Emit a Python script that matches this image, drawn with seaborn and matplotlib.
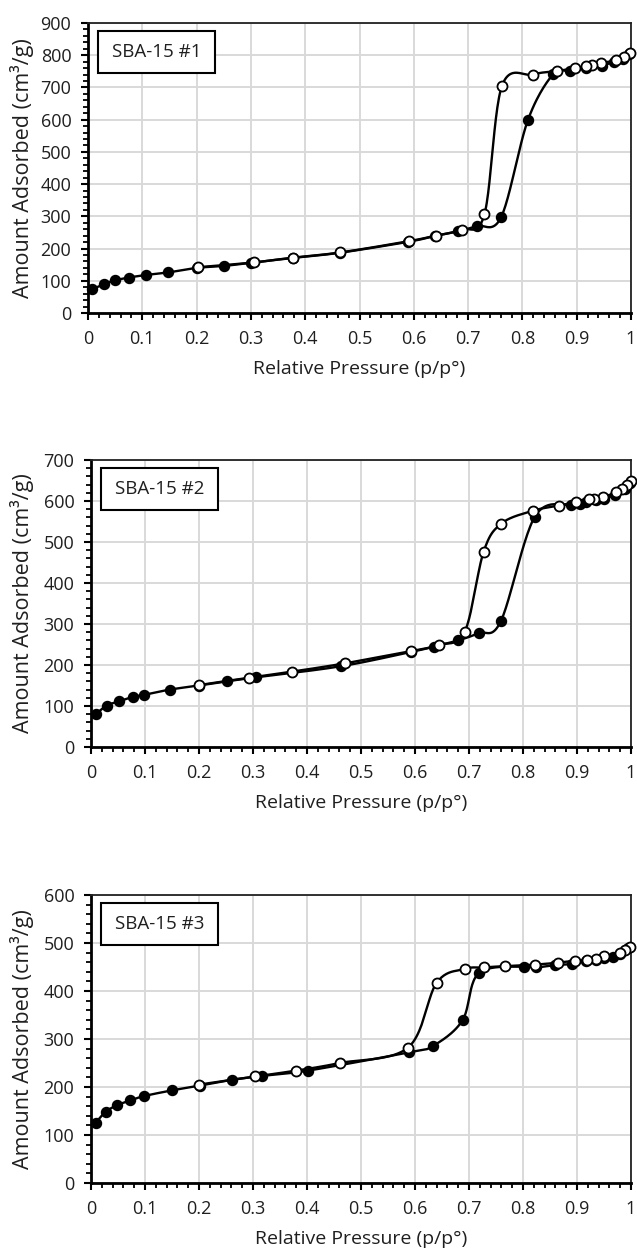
import numpy as np
import matplotlib
matplotlib.use("Agg")
import matplotlib.pyplot as plt
import seaborn as sns
from matplotlib.ticker import MultipleLocator, FuncFormatter
from matplotlib.patches import Rectangle

# ---------------- data ----------------
titles = ["SBA-15 #1", "SBA-15 #2", "SBA-15 #3"]
ymax = [900, 700, 600]

ads1_x = [0.008, 0.030, 0.049, 0.075, 0.107, 0.148, 0.200, 0.250, 0.300, 0.378, 0.464,
          0.590, 0.639, 0.682, 0.716, 0.761, 0.810, 0.857, 0.887, 0.918, 0.946, 0.969, 0.986, 0.997]
ads1_y = [74, 90, 101, 110, 118, 126, 140, 146, 156, 171, 187,
          221, 239, 254, 270, 298, 598, 742, 750, 760, 768, 779, 789, 805]
des1_x = [0.999, 0.988, 0.973, 0.944, 0.929, 0.918, 0.896, 0.863, 0.819, 0.762,
          0.730, 0.688, 0.640, 0.591, 0.465, 0.378, 0.306, 0.202]
des1_y = [807, 795, 784, 776, 770, 765, 759, 751, 740, 703,
          306, 259, 240, 223, 188, 172, 157, 142]

ads2_x = [0.009, 0.029, 0.051, 0.077, 0.098, 0.146, 0.200, 0.251, 0.306, 0.463,
          0.593, 0.636, 0.680, 0.718, 0.759, 0.822, 0.889, 0.906, 0.916, 0.936, 0.950, 0.970, 0.988, 0.998]
ads2_y = [80, 101, 111, 122, 127, 140, 150, 160, 170, 197,
          232, 245, 260, 278, 307, 562, 591, 593, 598, 603, 606, 615, 629, 645]
des2_x = [1.000, 0.993, 0.984, 0.973, 0.948, 0.931, 0.923, 0.899, 0.866, 0.818, 0.760,
          0.727, 0.692, 0.644, 0.593, 0.470, 0.373, 0.292, 0.200]
des2_y = [649, 640, 630, 621, 610, 605, 604, 597, 589, 576, 545,
          476, 281, 249, 234, 204, 184, 169, 151]

ads3_x = [0.009, 0.027, 0.048, 0.073, 0.098, 0.150, 0.202, 0.261, 0.316, 0.401,
          0.588, 0.634, 0.688, 0.718, 0.802, 0.824, 0.860, 0.891, 0.916, 0.936, 0.950, 0.967, 0.980, 0.994]
ads3_y = [126, 148, 162, 172, 181, 193, 203, 215, 223, 234,
          272, 286, 339, 437, 451, 449, 454, 456, 462, 464, 468, 471, 477, 490]
des3_x = [0.998, 0.988, 0.980, 0.950, 0.936, 0.918, 0.897, 0.865, 0.822, 0.766,
          0.728, 0.692, 0.640, 0.587, 0.461, 0.379, 0.304, 0.200]
des3_y = [491, 485, 479, 472, 467, 464, 463, 459, 455, 452,
          449, 446, 417, 282, 250, 234, 222, 205]

series = [(ads1_x, ads1_y, des1_x, des1_y),
          (ads2_x, ads2_y, des2_x, des2_y),
          (ads3_x, ads3_y, des3_x, des3_y)]


def smooth(x, y, n=24):
    """Excel-like smoothed line (Catmull-Rom / Bezier) through the points."""
    P = np.column_stack([x, y]).astype(float)
    P = np.vstack([P[0], P, P[-1]])
    out = []
    t = np.linspace(0, 1, n, endpoint=False)[:, None]
    for i in range(1, len(P) - 2):
        p0, p1, p2, p3 = P[i - 1], P[i], P[i + 1], P[i + 2]
        c1 = p1 + (p2 - p0) / 6.0
        c2 = p2 - (p3 - p1) / 6.0
        b = (1 - t) ** 3 * p1 + 3 * (1 - t) ** 2 * t * c1 + 3 * (1 - t) * t ** 2 * c2 + t ** 3 * p2
        out.append(b)
    out.append(P[-2][None, :])
    return np.vstack(out)


sns.set_style("white")
plt.rcParams['font.family'] = ['Open Sans', 'DejaVu Sans']

W, H = 637, 1253
fig = plt.figure(figsize=(W / 100, H / 100), dpi=100)

# axes pixel boxes: left, right, top, bottom
boxes = [(88, 631, 23, 313), (91, 631, 460, 747), (91, 631, 895, 1183)]
TXT = '#1f1f1f'

for k, (l, r, t, b) in enumerate(boxes):
    ax = fig.add_axes([l / W, 1 - b / H, (r - l) / W, (b - t) / H])
    ax_x, ax_y, de_x, de_y = series[k]
    pw, ph = r - l, b - t

    sa = smooth(ax_x, ax_y)
    sd = smooth(de_x, de_y)
    sns.lineplot(x=sa[:, 0], y=sa[:, 1], sort=False, estimator=None, color='black',
                 lw=1.7, ax=ax, zorder=3)
    sns.scatterplot(x=ax_x, y=ax_y, color='black', edgecolor='black', linewidth=1.0,
                    s=52, ax=ax, zorder=4, clip_on=False)
    sns.lineplot(x=sd[:, 0], y=sd[:, 1], sort=False, estimator=None, color='black',
                 lw=1.7, ax=ax, zorder=5)
    sns.scatterplot(x=de_x, y=de_y, color='white', edgecolor='black', linewidth=1.3,
                    s=52, ax=ax, zorder=6, clip_on=False)

    ax.set_xlim(0, 1)
    ax.set_ylim(0, ymax[k])
    ax.xaxis.set_major_locator(MultipleLocator(0.1))
    ax.xaxis.set_minor_locator(MultipleLocator(0.02))
    ax.yaxis.set_major_locator(MultipleLocator(100))
    ax.yaxis.set_minor_locator(MultipleLocator(20))
    ax.xaxis.set_major_formatter(FuncFormatter(lambda v, p: f"{v:g}"))
    ax.grid(True, which='major', color='#d9d9d9', lw=1.4, zorder=0)
    ax.set_axisbelow(True)

    ax.tick_params(axis='both', which='major', direction='out', length=5, width=1.5,
                   color='black', labelsize=13, labelcolor=TXT)
    ax.tick_params(axis='x', which='major', pad=7)
    ax.tick_params(axis='y', which='major', pad=7)
    ax.tick_params(axis='both', which='minor', direction='out', length=3.5, width=1.3,
                   color='black')
    ax.tick_params(bottom=True, left=True, which='both')

    for side in ['left', 'bottom']:
        ax.spines[side].set_linewidth(2.0)
        ax.spines[side].set_color('black')
    for side in ['top', 'right']:
        ax.spines[side].set_linewidth(1.3)
        ax.spines[side].set_color('#222222')

    ax.set_xlabel('Relative Pressure (p/p°)', fontsize=14, color=TXT)
    ax.set_ylabel('Amount Adsorbed (cm³/g)', fontsize=15.5, color=TXT)
    ax.xaxis.set_label_coords(0.5, -47 / ph)
    ax.yaxis.set_label_coords(-(l - 34) / pw, 0.5)

    # label box
    bx0, bx1 = 10 / pw, 127 / pw
    by1, by0 = 1 - 8 / ph, 1 - 50 / ph
    ax.add_patch(Rectangle((bx0, by0), bx1 - bx0, by1 - by0, transform=ax.transAxes,
                           facecolor='white', edgecolor='black', lw=1.5, zorder=7))
    ax.text((bx0 + bx1) / 2, (by0 + by1) / 2, titles[k], transform=ax.transAxes,
            ha='center', va='center', fontsize=13.5, color=TXT, zorder=8)

fig.savefig("out.png", dpi=100)
